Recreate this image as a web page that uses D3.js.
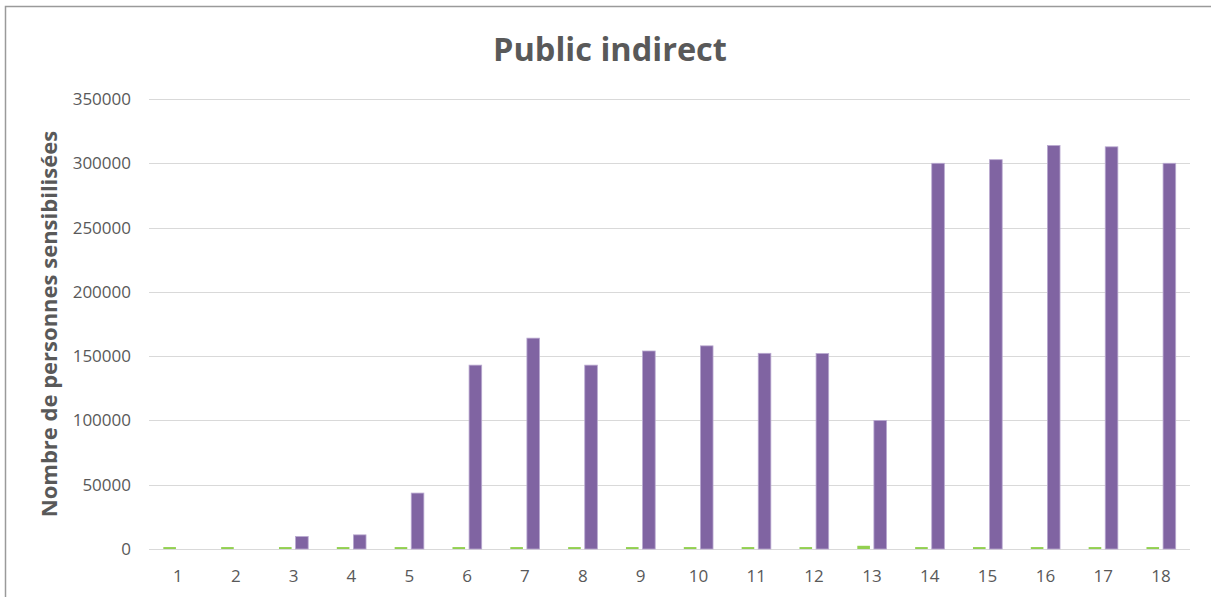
<!DOCTYPE html>
<html>
<head>
<meta charset="utf-8">
<script src="https://cdn.jsdelivr.net/npm/d3@7"></script>
<style>
  html, body { margin: 0; padding: 0; background: #fff; }
  svg { display: block; }
  text { font-family: "Open Sans", sans-serif; }
</style>
</head>
<body>
<svg id="chart" width="1211" height="597"></svg>
<script>
// ---- data ----
const categories = ["1","2","3","4","5","6","7","8","9","10","11","12","13","14","15","16","17","18"];
const seriesGreen = [1500,1500,1500,1500,1500,1500,1500,1500,1500,1500,1500,1500,2500,1500,1500,1500,1500,1500];
const seriesPurple = [0,0,9700,11000,43500,143000,164000,143000,154000,158000,152200,152000,100000,300000,302800,313800,312800,300000];
const yTicks = [0,50000,100000,150000,200000,250000,300000,350000];
const title = "Public indirect";
const yTitle = "Nombre de personnes sensibilisées";

// ---- layout ----
const plot = {left: 149, right: 1190, top: 99, bottom: 549};
const svg = d3.select("#chart");

// outer chart border
svg.append("rect")
  .attr("x", 5.5).attr("y", 6.5)
  .attr("width", 1230).attr("height", 620)
  .attr("fill", "#fff")
  .attr("stroke", "#9a9a9a").attr("stroke-width", 1.5);

const x = d3.scaleBand().domain(categories).range([plot.left, plot.right]).paddingInner(0).paddingOuter(0);
const y = d3.scaleLinear().domain([0, 350000]).range([plot.bottom, plot.top]);
const step = x.bandwidth();
const xSub = d3.scaleBand().domain(["green","purple"])
  .range([step/2 - 16.6, step/2 + 16.6]).paddingInner(0.24).paddingOuter(0.12);

// gridlines
svg.append("g").selectAll("line").data(yTicks).join("line")
  .attr("x1", plot.left).attr("x2", plot.right)
  .attr("y1", d => Math.round(y(d)) + 0.5).attr("y2", d => Math.round(y(d)) + 0.5)
  .attr("stroke", "#d9d9d9").attr("stroke-width", 1.2);

// y tick labels
svg.append("g").selectAll("text").data(yTicks).join("text")
  .attr("x", 131).attr("y", d => y(d))
  .attr("dy", "0.35em")
  .attr("text-anchor", "end")
  .attr("font-size", 17)
  .attr("fill", "#595959")
  .text(d => d);

// x tick labels
svg.append("g").selectAll("text").data(categories).join("text")
  .attr("x", d => x(d) + step/2).attr("y", 582)
  .attr("text-anchor", "middle")
  .attr("font-size", 17)
  .attr("fill", "#595959")
  .text(d => d);

// bars
const rows = categories.map((c, i) => ({c, green: seriesGreen[i], purple: seriesPurple[i]}));
const gBars = svg.append("g");
gBars.selectAll("rect.green").data(rows).join("rect")
  .attr("class", "green")
  .attr("x", d => x(d.c) + xSub("green"))
  .attr("width", xSub.bandwidth())
  .attr("y", d => y(d.green))
  .attr("height", d => y(0) - y(d.green))
  .attr("fill", "#92d050");
gBars.selectAll("rect.purple").data(rows.filter(d => d.purple > 0)).join("rect")
  .attr("class", "purple")
  .attr("x", d => x(d.c) + xSub("purple"))
  .attr("width", xSub.bandwidth())
  .attr("y", d => y(d.purple))
  .attr("height", d => y(0) - y(d.purple))
  .attr("fill", "#8064a2")
  .attr("stroke", "#b9a9d0").attr("stroke-width", 0.8);

// title
svg.append("text")
  .attr("x", 610).attr("y", 61)
  .attr("text-anchor", "middle")
  .attr("font-size", 32.5).attr("font-weight", "bold")
  .attr("fill", "#595959")
  .text(title);

// y axis title
svg.append("text")
  .attr("transform", "translate(57," + 324 + ") rotate(-90)")
  .attr("text-anchor", "middle")
  .attr("font-size", 22).attr("font-weight", "bold")
  .attr("fill", "#595959")
  .text(yTitle);
</script>
</body>
</html>
